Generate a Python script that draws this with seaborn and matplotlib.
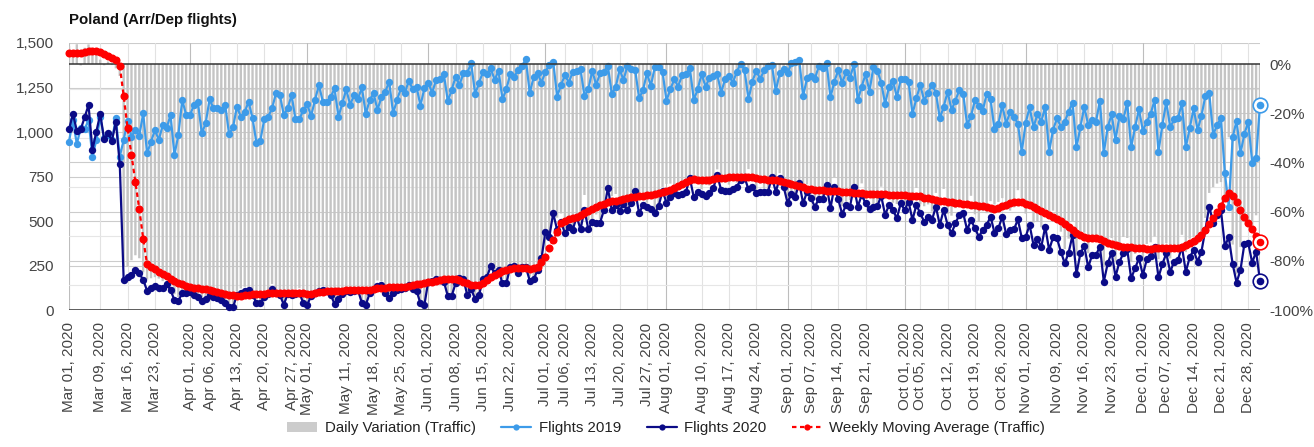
import numpy as np
import pandas as pd
import matplotlib
matplotlib.use("Agg")
import matplotlib.pyplot as plt
import seaborn as sns
from matplotlib.lines import Line2D
from matplotlib.patches import Patch

sns.set_theme(style="white")
plt.rcParams['font.family'] = ['Liberation Sans', 'DejaVu Sans']

# ---------------- data ----------------
dates = pd.date_range("2020-03-01", "2020-12-31", freq="D")

flights_2019 = [
    946, 1067, 933, 1021, 1015, 1067, 862,
    955, 1082, 964, 983, 955, 1077, 862,
    955, 1062, 974, 1011, 979, 1105, 880,
    946, 1011, 955, 1039, 1021, 1096, 871,
    983, 1180, 1096, 1096, 1152, 1170, 993,
    1049, 1184, 1133, 1133, 1124, 1152, 987,
    1026, 1142, 1086, 1114, 1170, 1077, 940,
    951, 1071, 1086, 1133, 1217, 1208, 1096,
    1133, 1208, 1071, 1071, 1124, 1156, 1090,
    1180, 1264, 1170, 1170, 1195, 1245, 1086,
    1161, 1240, 1152, 1208, 1184, 1251, 1101,
    1180, 1217, 1124, 1195, 1227, 1283, 1105,
    1180, 1245, 1217, 1289, 1240, 1255, 1148,
    1245, 1277, 1221, 1292, 1296, 1324, 1174,
    1236, 1311, 1264, 1330, 1334, 1386, 1214,
    1274, 1339, 1326, 1358, 1292, 1345, 1184,
    1240, 1326, 1311, 1348, 1371, 1408, 1217,
    1311, 1330, 1277, 1339, 1376, 1395, 1199,
    1264, 1320, 1277, 1339, 1345, 1352, 1202,
    1240, 1345, 1264, 1330, 1339, 1371, 1214,
    1251, 1352, 1292, 1371, 1352, 1348, 1189,
    1236, 1330, 1259, 1363, 1367, 1339, 1176,
    1240, 1296, 1255, 1320, 1326, 1358, 1180,
    1240, 1326, 1255, 1302, 1315, 1326, 1221,
    1296, 1315, 1277, 1339, 1382, 1348, 1184,
    1283, 1345, 1296, 1348, 1371, 1376, 1232,
    1330, 1352, 1330, 1386, 1395, 1405, 1202,
    1302, 1315, 1296, 1371, 1358, 1390, 1195,
    1283, 1348, 1274, 1339, 1302, 1382, 1180,
    1255, 1326, 1227, 1367, 1345, 1277, 1157,
    1255, 1289, 1195, 1296, 1296, 1283, 1101,
    1189, 1264, 1176, 1221, 1264, 1221, 1077,
    1142, 1227, 1124, 1176, 1236, 1214, 1039,
    1090, 1180, 1146, 1120, 1214, 1184, 1015,
    1045, 1152, 1045, 1114, 1086, 1045, 890,
    1052, 1139, 1026, 1101, 1058, 1142, 890,
    1011, 1077, 1030, 1058, 1114, 1165, 914,
    1026, 1142, 1039, 1067, 1058, 1176, 884,
    1026, 1101, 955, 1090, 1071, 1165, 914,
    1026, 1127, 1007, 1058, 1101, 1180, 890,
    1039, 1170, 1026, 1071, 1077, 1165, 914,
    1021, 1133, 1011, 1090, 1202, 1221, 983,
    1039, 1077, 771, 581, 970, 1064, 880,
    989, 1058, 828, 852, 1152,
]

flights_2020 = [
    1015, 1101, 1008, 1015, 1082, 1152, 899,
    1002, 1101, 959, 993, 951, 1058, 820,
    169, 187, 197, 225, 206, 169, 109,
    122, 135, 122, 122, 146, 112, 56,
    52, 94, 94, 103, 84, 75, 52,
    60, 84, 71, 65, 56, 37, 19,
    15, 85, 95, 105, 110, 85, 40,
    38, 75, 90, 120, 95, 85, 30,
    90, 85, 92, 95, 40, 28, 80,
    97, 108, 112, 108, 85, 35, 62,
    92, 108, 103, 108, 112, 40, 28,
    94, 118, 135, 140, 98, 65, 98,
    112, 120, 122, 140, 116, 109, 37,
    28, 159, 165, 172, 169, 159, 79,
    79, 150, 178, 172, 84, 116, 62,
    84, 172, 184, 247, 206, 225, 150,
    150, 243, 247, 206, 243, 240, 165,
    172, 225, 290, 440, 412, 543, 450,
    496, 431, 468, 450, 524, 453, 562,
    453, 496, 491, 491, 562, 684, 562,
    590, 558, 596, 562, 599, 670, 543,
    590, 581, 566, 543, 584, 670, 603,
    637, 655, 646, 652, 665, 740, 633,
    665, 652, 640, 659, 684, 758, 674,
    670, 670, 678, 693, 730, 745, 678,
    693, 655, 665, 665, 665, 745, 665,
    740, 693, 603, 652, 637, 715, 599,
    665, 627, 581, 622, 622, 702, 571,
    693, 622, 539, 590, 581, 693, 581,
    646, 599, 566, 581, 584, 640, 534,
    590, 562, 515, 599, 562, 609, 506,
    590, 543, 496, 524, 506, 581, 478,
    562, 478, 431, 487, 534, 543, 450,
    506, 459, 412, 450, 478, 524, 435,
    459, 524, 427, 450, 453, 509, 403,
    412, 478, 365, 397, 356, 468, 337,
    408, 403, 328, 262, 323, 421, 202,
    318, 360, 240, 309, 309, 356, 159,
    262, 322, 187, 271, 318, 341, 178,
    234, 290, 197, 284, 303, 352, 184,
    258, 318, 215, 271, 281, 356, 215,
    296, 337, 271, 328, 450, 581, 491,
    534, 560, 360, 408, 258, 154, 225,
    371, 375, 266, 328, 163,
]

# weekly moving average of the traffic variation, in %
weekly_avg = [
    4.3, 4.4, 4.6, 4.6, 4.8, 5.1, 5.4,
    5.3, 4.9, 4.2, 3.4, 2.6, 1.6, -0.8,
    -13, -26, -37, -48, -59, -71, -81.5,
    -82.5, -83.5, -84.5, -85.3, -86.3, -87.2, -88.3,
    -89.1, -89.6, -90.1, -90.6, -91, -91.2, -91.4,
    -91.6, -91.8, -92.1, -92.5, -93, -93.4, -93.8,
    -94.1, -94.3, -94.2, -94, -93.8, -93.6, -93.5,
    -93.4, -93.3, -93.2, -93, -92.9, -93, -93.1,
    -93.1, -93, -93, -93.1, -93.2, -93.3, -93.3,
    -93.1, -92.8, -92.6, -92.4, -92.3, -92.3, -92.2,
    -92.1, -92, -92, -91.9, -91.9, -92, -92,
    -91.8, -91.5, -91.2, -91, -90.9, -90.8, -90.7,
    -90.7, -90.6, -90.5, -90.2, -89.9, -89.6, -89.4,
    -89.2, -88.8, -88.5, -88.1, -87.8, -87.6, -87.5,
    -87.5, -87.6, -88, -88.6, -89.2, -89.7, -90,
    -89.8, -89, -87.8, -86.6, -85.6, -84.9, -84.3,
    -83.8, -83.4, -83.1, -83, -83, -83.1, -83.2,
    -83, -82.6, -80.4, -78.3, -74.9, -71.5, -68.2,
    -64.8, -63.8, -63.2, -62.6, -62.2, -61.4, -60.6,
    -59.8, -59.1, -58.3, -57.5, -56.8, -56.2, -55.8,
    -55.5, -55.1, -54.8, -54.5, -54.2, -54, -53.8,
    -53.6, -53.4, -53.1, -52.8, -52.5, -52.1, -51.6,
    -51.1, -50.4, -49.6, -48.8, -47.8, -47, -46.9,
    -47.1, -47.3, -47.3, -47.1, -46.8, -46.5, -46.4,
    -46.2, -46.1, -46, -45.9, -45.8, -45.8, -45.9,
    -46.1, -46.3, -46.6, -46.8, -47, -47.1, -47.2,
    -47.5, -47.9, -48.3, -48.7, -49.2, -49.7, -50.2,
    -50.7, -51, -51.2, -51.3, -51.4, -51.5, -51.6,
    -51.7, -51.8, -51.9, -52, -52.2, -52.4, -52.6,
    -52.6, -52.7, -52.7, -52.8, -52.8, -52.9, -53,
    -53.1, -53.2, -53.3, -53.4, -53.4, -53.5, -53.5,
    -53.6, -53.8, -54.3, -54.6, -54.9, -55.2, -55.5,
    -55.7, -55.9, -56.1, -56.4, -56.6, -56.8, -57,
    -57.3, -57.5, -57.7, -57.9, -58.2, -58.5, -58.9,
    -58.5, -57.9, -57.3, -56.7, -56.2, -56, -56.3,
    -56.8, -57.4, -58.1, -58.9, -59.8, -60.7, -61.5,
    -62.2, -63, -64, -65, -66.2, -67.3, -68.5,
    -69.6, -70.4, -70.8, -70.7, -70.8, -71.3, -72,
    -72.7, -73.3, -73.7, -74, -74.2, -74.4, -74.5,
    -74.6, -74.8, -74.9, -75, -75, -74.9, -74.9,
    -74.8, -74.8, -74.9, -74.9, -74.6, -74.2, -73.6,
    -72.8, -71.8, -70.6, -69.4, -67.5, -65.2, -62.8,
    -60.3, -57.8, -54.5, -52.6, -53.6, -56.2, -59.4,
    -62.2, -64.8, -67.2, -69.8, -72.4,
]

tick_labels = [
    "Mar 01, 2020", "Mar 09, 2020", "Mar 16, 2020", "Mar 23, 2020",
    "Apr 01, 2020", "Apr 06, 2020", "Apr 13, 2020", "Apr 20, 2020",
    "Apr 27, 2020", "May 01, 2020", "May 11, 2020", "May 18, 2020",
    "May 25, 2020", "Jun 01, 2020", "Jun 08, 2020", "Jun 15, 2020",
    "Jun 22, 2020", "Jul 01, 2020", "Jul 06, 2020", "Jul 13, 2020",
    "Jul 20, 2020", "Jul 27, 2020", "Aug 01, 2020", "Aug 10, 2020",
    "Aug 17, 2020", "Aug 24, 2020", "Sep 01, 2020", "Sep 07, 2020",
    "Sep 14, 2020", "Sep 21, 2020", "Oct 01, 2020", "Oct 05, 2020",
    "Oct 12, 2020", "Oct 19, 2020", "Oct 26, 2020", "Nov 01, 2020",
    "Nov 09, 2020", "Nov 16, 2020", "Nov 23, 2020", "Dec 01, 2020",
    "Dec 07, 2020", "Dec 14, 2020", "Dec 21, 2020", "Dec 28, 2020",
]
left_ticks = [0, 250, 500, 750, 1000, 1250, 1500]
right_ticks = [0, -20, -40, -60, -80, -100]

df = pd.DataFrame({"date": dates, "f2019": flights_2019,
                   "f2020": flights_2020, "wma": weekly_avg})
df["variation"] = (df["f2020"] / df["f2019"] - 1) * 100
tick_dates = pd.to_datetime(tick_labels, format="%b %d, %Y")

c19 = "#3d9be9"
c20 = "#0b0b87"
cma = "#ff0000"
cbar = "#c4c4c4"

# ---------------- figure ----------------
fig = plt.figure(figsize=(13.14, 4.47), dpi=100)
rect = [69 / 1314, 1 - 310 / 447, 1191 / 1314, 267 / 447]
axL = fig.add_axes(rect)                          # left scale, grid, x labels
axR = fig.add_axes(rect, sharex=axL)              # right scale, bars
axF = fig.add_axes(rect, sharex=axL, sharey=axL)  # flights lines
axM = fig.add_axes(rect, sharex=axL, sharey=axR)  # moving average
for a in (axR, axF, axM):
    a.patch.set_visible(False)
for a in (axL, axR, axF, axM):
    for s in a.spines.values():
        s.set_visible(False)

axL.set_xlim(dates[0], dates[-1])
axL.set_ylim(0, 1500)
axR.set_ylim(-100, 267 / 2.46 - 100)

# gridlines
for v in left_ticks:
    axL.axhline(v, color="#cccccc", lw=0.8, zorder=0)
for d in tick_dates:
    axL.axvline(d, color="#bdbdbd" if d.day == 1 else "#e2e2e2", lw=0.8, zorder=0)
for p in range(-10, -100, -20):
    axR.axhline(p, color="#e6e6e6", lw=0.8, zorder=0)
for p in right_ticks[1:-1]:
    axR.axhline(p, color="#cccccc", lw=0.8, zorder=0)

# daily variation bars
bars = axR.bar(df["date"], df["variation"], width=0.6, color=cbar, zorder=2,
               linewidth=0)
for b in bars:
    b.set_snap(False)

# flights
sns.lineplot(data=df, x="date", y="f2019", ax=axF, color=c19, marker="o",
             markersize=5.3, markeredgewidth=0, linewidth=1.6, clip_on=False)
sns.lineplot(data=df, x="date", y="f2020", ax=axF, color=c20, marker="o",
             markersize=5.3, markeredgewidth=0, linewidth=1.6, clip_on=False)

# moving average + baselines
axM.axhline(0, color="#333333", lw=1.1, zorder=1)
axL.axhline(0, color="#333333", lw=1.1, zorder=3)
sns.lineplot(data=df, x="date", y="wma", ax=axM, color=cma, marker="o",
             markersize=5.8, markeredgewidth=0, linewidth=1.6,
             linestyle=(0, (2, 1.6)), clip_on=False)

# highlighted last points
last = df.iloc[-1]
for ax_, col, val in ((axF, c19, last["f2019"]), (axF, c20, last["f2020"]),
                      (axM, cma, last["wma"])):
    ax_.plot([last["date"]], [val], "o", ms=10.5, mfc="white", mec=col,
             mew=1.2, clip_on=False, zorder=5)
    ax_.plot([last["date"]], [val], "o", ms=5.5, mfc=col, mec=col,
             mew=0, clip_on=False, zorder=6)

# ticks
axL.set_yticks(left_ticks)
axL.set_yticklabels([f"{v:,}" for v in left_ticks])
axL.tick_params(axis="y", length=0, pad=11, labelsize=11, labelcolor="#444444")
axL.set_xticks(tick_dates)
axL.set_xticklabels(tick_labels, rotation=90)
axL.tick_params(axis="x", length=0, pad=9, labelsize=11, labelcolor="#444444")

axR.yaxis.tick_right()
axR.set_yticks(right_ticks)
axR.set_yticklabels([f"{v}%" for v in right_ticks])
axR.tick_params(axis="y", length=0, pad=7, labelsize=11, labelcolor="#444444")
axR.tick_params(axis="x", bottom=False, labelbottom=False)

for a in (axF, axM):
    a.tick_params(left=False, labelleft=False, right=False, labelright=False,
                  bottom=False, labelbottom=False)
for a in (axL, axR, axF, axM):
    a.set_xlabel("")
    a.set_ylabel("")

fig.text(69 / 1314, 1 - 20 / 447, "Poland (Arr/Dep flights)", fontsize=10.8,
         fontweight="bold", color="#111111", va="center", ha="left")

handles = [
    Patch(facecolor="#cccccc", edgecolor="none"),
    Line2D([0], [0], color=c19, lw=1.6, marker="o", ms=4.5, mew=0),
    Line2D([0], [0], color=c20, lw=1.6, marker="o", ms=4.5, mew=0),
    Line2D([0], [0], color=cma, lw=1.6, marker="o", ms=4.5, mew=0,
           linestyle=(0, (2, 1.6))),
]
labels = ["Daily Variation (Traffic)", "Flights 2019", "Flights 2020",
          "Weekly Moving Average (Traffic)"]
fig.legend(handles, labels, loc="center", bbox_to_anchor=(0.507, 1 - 428 / 447),
           ncol=4, frameon=False, fontsize=10.8, handlelength=2.0,
           handletextpad=0.5, columnspacing=1.7, labelcolor="#222222")

fig.savefig("out.png", dpi=100)
